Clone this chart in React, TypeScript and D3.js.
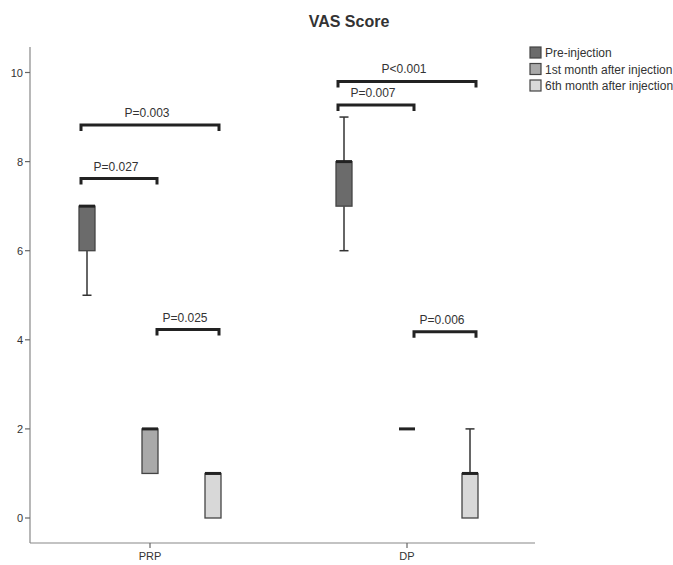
import React from "react";
import * as d3 from "d3";

const categories = ["PRP", "DP"];
const seriesNames = ["Pre-injection", "1st month after injection", "6th month after injection"];
const seriesColors = ["#6b6b6b", "#a9a9a9", "#d8d8d8"];
// box stats per category per series: [min, q1, median, q3, max]
const prpStats = [
  [5, 6, 7, 7, 7],
  [1, 1, 2, 2, 2],
  [0, 0, 1, 1, 1],
];
const dpStats = [
  [6, 7, 8, 8, 9],
  [2, 2, 2, 2, 2],
  [0, 0, 1, 1, 2],
];
const yTicks = [0, 2, 4, 6, 8, 10];
// brackets: category, from series, to series, y level, label
const bracketCats = ["PRP", "PRP", "PRP", "DP", "DP", "DP"];
const bracketFrom = [0, 0, 1, 0, 0, 1];
const bracketTo = [1, 2, 2, 1, 2, 2];
const bracketLevels = [7.62, 8.82, 4.23, 9.27, 9.8, 4.18];
const bracketLabels = ["P=0.027", "P=0.003", "P=0.025", "P=0.007", "P<0.001", "P=0.006"];

const W = 673;
const H = 565;

export default function App() {
  const y = d3.scaleLinear().domain([0, 10]).range([518, 72.5]);
  const x = d3.scaleBand().domain(categories).range([21.5, 535.5]).padding(0);
  const xs = d3.scaleBand().domain(seriesNames).range([-94.5, 94.5]).padding(0);
  const center = (cat: string, si: number) =>
    (x(cat) as number) + x.bandwidth() / 2 + (xs(seriesNames[si]) as number) + xs.bandwidth() / 2;
  const boxW = 16;
  const capW = 9;
  const font = "'Liberation Sans', Arial, sans-serif";
  const allStats: Record<string, number[][]> = { PRP: prpStats, DP: dpStats };

  return (
    <svg width={W} height={H} style={{ position: "absolute", left: 0, top: 0, background: "#fff" }} fontFamily={font}>
      <text x={349} y={27} textAnchor="middle" fontSize={16} fontWeight="bold" fill="#333">VAS Score</text>

      {/* y axis */}
      <line x1={30} x2={30} y1={47} y2={543} stroke="#888" strokeWidth={1.2} />
      {yTicks.map((t) => (
        <g key={t}>
          <line x1={25} x2={30} y1={y(t)} y2={y(t)} stroke="#666" strokeWidth={1.2} />
          <text x={23} y={y(t) + 4} textAnchor="end" fontSize={11} fill="#333">{t}</text>
        </g>
      ))}
      {/* x axis */}
      <line x1={30} x2={535} y1={543} y2={543} stroke="#888" strokeWidth={1.2} />
      {categories.map((c) => {
        const cx = (x(c) as number) + x.bandwidth() / 2;
        return (
          <g key={c}>
            <line x1={cx} x2={cx} y1={543} y2={548} stroke="#666" strokeWidth={1.2} />
            <text x={cx} y={560} textAnchor="middle" fontSize={11} fill="#333">{c}</text>
          </g>
        );
      })}

      {/* boxes */}
      {categories.map((c) =>
        allStats[c].map((s, si) => {
          const cx = center(c, si);
          const [mn, q1, md, q3, mx] = s;
          return (
            <g key={c + si}>
              {mx > q3 && (
                <g>
                  <line x1={cx} x2={cx} y1={y(q3)} y2={y(mx)} stroke="#333" strokeWidth={1.5} />
                  <line x1={cx - capW / 2} x2={cx + capW / 2} y1={y(mx)} y2={y(mx)} stroke="#333" strokeWidth={1.5} />
                </g>
              )}
              {mn < q1 && (
                <g>
                  <line x1={cx} x2={cx} y1={y(q1)} y2={y(mn)} stroke="#333" strokeWidth={1.5} />
                  <line x1={cx - capW / 2} x2={cx + capW / 2} y1={y(mn)} y2={y(mn)} stroke="#333" strokeWidth={1.5} />
                </g>
              )}
              {q3 > q1 && (
                <rect x={cx - boxW / 2} y={y(q3)} width={boxW} height={y(q1) - y(q3)}
                  fill={seriesColors[si]} stroke="#444" strokeWidth={1.3} />
              )}
              <line x1={cx - boxW / 2} x2={cx + boxW / 2} y1={y(md)} y2={y(md)} stroke="#222" strokeWidth={3} />
            </g>
          );
        })
      )}

      {/* significance brackets */}
      {bracketLabels.map((lab, i) => {
        const c = bracketCats[i];
        const l = center(c, bracketFrom[i]) + (bracketFrom[i] === 0 ? -6 : 7);
        const r = center(c, bracketTo[i]) + (bracketTo[i] === 1 ? 7 : 6);
        const yy = y(bracketLevels[i]);
        return (
          <g key={lab}>
            <path d={`M${l},${yy + 6}V${yy}H${r}V${yy + 6}`} fill="none" stroke="#222" strokeWidth={3} />
            <text x={(l + r) / 2 - 3} y={yy - 8} textAnchor="middle" fontSize={12} fill="#333">{lab}</text>
          </g>
        );
      })}

      {/* legend */}
      {seriesNames.map((n, i) => (
        <g key={n}>
          <rect x={530} y={47 + i * 16.5} width={11} height={11} fill={seriesColors[i]} stroke="#444" strokeWidth={1.2} />
          <text x={545} y={57 + i * 16.5} fontSize={12} fill="#333">{n}</text>
        </g>
      ))}
    </svg>
  );
}
